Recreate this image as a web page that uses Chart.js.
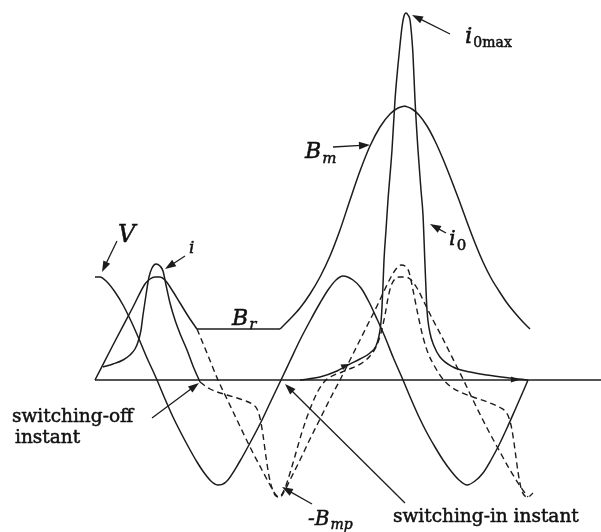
<!DOCTYPE html>
<html>
<head>
<meta charset="utf-8">
<script src="https://cdn.jsdelivr.net/npm/chart.js@4/dist/chart.umd.min.js"></script>
<style>
  html, body { margin: 0; padding: 0; background: #ffffff; }
  #wrap { width: 601px; height: 532px; }
</style>
</head>
<body>
<div id="wrap"><canvas id="c" width="601" height="532"></canvas></div>
<script>
// ---- data (time t, value v; arbitrary units) ----
const baseT = [0, 506];
const baseV = [0, 0];

// supply voltage V
const voltT = [0,5,12,20,28,36,44,52,58,62,70,78,86,94,102,110,117,123,131,145,155,167,175,186,195,205,215,225,233,241,248,258,266,274,282,290,298,308,316,324,332,340,348,356,364,372,380,388,396,404,412,420,427,433];
const voltV = [103,103,98,88,75,59,41,22,9,0,-19,-37,-53,-68,-82,-94,-102,-105,-102,-81,-63,-40,-23,0,19,40,59,77,90,100,104,100,92,78,61,43,23,0,-19,-37,-53,-67,-80,-91,-100,-105,-101,-93,-80,-65,-48,-30,-14,0];

// flux B before switching-off
const fluxT = [0,18,38,50,55,60,65,70,77,85,95,102];
const fluxV = [0,35,73,96,101,103,103,100,90,77,61,51];

// residual flux B_r
const remT = [102, 185];
const remV = [51, 51];

// flux after switching-in, rising to B_m
const riseT = [185,195,205,215,225,235,245,255,265,275,285,295,303,310];
const riseV = [51,61,72,86,103,124,150,180,209,234,253,266,272,274];

// flux falling back from B_m
const fallT = [310,317,324,332,340,348,356,364,372,380,388,396,404,412,420,428,435];
const fallV = [274,271,265,254,239,221,201,180,158,137,118,102,89,77,67,58,51];

// magnetizing current i before switching-off
const curT = [8,18,28,35,40,43,46,48,51,54,57,61,65,68,71,75,80,86,92,98,105];
const curV = [13,16,20,25,31,38,50,65,85,103,112,116,114,109,95,77,60,44,30,14,-2];

// inrush current i0
const inrT = [205,225,242,253,265,275,281,284,286,287,288,289,291,293,297,300,303,305,307,309,311,313,315,317,318,320,323,326,328,330,332,335,339,345,358,375,392,415,433];
const inrV = [0,3,9,15,21,27,34,44,58,73,95,120,150,180,230,280,315,335,353,364,367,365,360,340,325,280,230,190,165,115,70,47,34,23,13,8,5,2,0];

// prospective curves (dashed)
const dashAT = [102,112,123,132,142,155,167,175,181,185,189,195,205,215,225,235,245,255,265,275,283,290,296,301,306,310,314,318,323,328,333,340,347,355,365,378,395,406,410,414,417,420,423,426,429,433,438];
const dashAV = [51,27,0,-19,-40,-67,-90,-105,-115,-117,-112,-100,-80,-59,-39,-19,0,20,40,60,76,91,103,111,115,114,108,90,65,43,27,13,2,-6,-12,-17,-23,-28,-31,-38,-50,-70,-92,-108,-115,-117,-113];

const dashBT = [105,115,132,148,157,162,165,168,171,174,177,180,184,190,195,200,207,215,223,230,237,247,257,267,275,281,286,290,293,296,300,305,310,315,322,330,338,347,355,362,368,378,392,405,415,425,433];
const dashBV = [-2,-9,-15,-20,-24,-29,-38,-55,-77,-96,-108,-115,-117,-108,-93,-76,-52,-29,-11,-1,4,8,12,17,24,33,47,65,82,94,101,103,103,101,92,76,60,43,27,13,1,-20,-48,-72,-90,-106,-117];

// ---- annotations (positions in data units) ----
const labelList = [
  { text: 'V', t: 23, v: 138, size: 24, italic: true },
  { text: 'i', t: 94, v: 127, size: 17, italic: true },
  { text: 'B', t: 137, v: 55, size: 22, italic: true, sub: 'r', subSize: 15, subItalic: true, subDy: 4 },
  { text: 'B', t: 210, v: 222, size: 22, italic: true, sub: 'm', subSize: 15, subItalic: true, subDy: 5 },
  { text: '-B', t: 213, v: -145, size: 20, italic: true, sub: 'mp', subSize: 14, subItalic: true, subDy: 4 },
  { text: 'i', t: 370, v: 337, size: 23, italic: true, sub: '0max', subSize: 14, subItalic: false, subDy: 4 },
  { text: 'i', t: 354, v: 135, size: 21, italic: true, sub: '0', subSize: 15, subItalic: false, subDy: 5 },
  { text: 'switching-off', t: -83, v: -42, size: 18.5, italic: false },
  { text: 'instant', t: -80, v: -63, size: 18.5, italic: false },
  { text: 'switching-in instant', t: 298, v: -142, size: 18.5, italic: false }
];

const arrowList = [
  { from: [22, 139], to: [7, 108] },
  { from: [90, 124], to: [70, 111] },
  { from: [238, 233], to: [275, 235] },
  { from: [355, 346], to: [317, 365] },
  { from: [351, 147], to: [335, 156] },
  { from: [57, -38], to: [104, -3] },
  { from: [310, -123], to: [190, -4] },
  { from: [217, -124], to: [187, -107] },
  { from: [243, 11], to: [254, 16], small: true },
  { from: [410, 1], to: [424, 0], small: true }
];

function pts(ts, vs) { return ts.map((t, i) => ({ x: t, y: vs[i] })); }

const INK = '#1c1c1c';
function solid(ts, vs) {
  return { data: pts(ts, vs), borderColor: INK, borderWidth: 1.5, pointRadius: 0,
           fill: false, cubicInterpolationMode: 'monotone' };
}
function dashed(ts, vs) {
  return { data: pts(ts, vs), borderColor: INK, borderWidth: 1.4, pointRadius: 0,
           fill: false, cubicInterpolationMode: 'monotone', borderDash: [6, 4] };
}

const annotate = {
  id: 'annotate',
  afterDatasetsDraw(chart) {
    const ctx = chart.ctx, xs = chart.scales.x, ys = chart.scales.y;
    ctx.save();
    ctx.strokeStyle = INK; ctx.fillStyle = INK; ctx.lineWidth = 1.3;
    arrowList.forEach(a => {
      const x1 = xs.getPixelForValue(a.from[0]), y1 = ys.getPixelForValue(a.from[1]);
      const x2 = xs.getPixelForValue(a.to[0]), y2 = ys.getPixelForValue(a.to[1]);
      const ang = Math.atan2(y2 - y1, x2 - x1);
      const len = a.small ? 8 : 11, hw = a.small ? 3 : 3.8;
      if (!a.small) {
        ctx.beginPath(); ctx.moveTo(x1, y1);
        ctx.lineTo(x2 - Math.cos(ang) * len * 0.8, y2 - Math.sin(ang) * len * 0.8); ctx.stroke();
      }
      ctx.beginPath();
      ctx.moveTo(x2, y2);
      ctx.lineTo(x2 - Math.cos(ang) * len - Math.sin(ang) * hw, y2 - Math.sin(ang) * len + Math.cos(ang) * hw);
      ctx.lineTo(x2 - Math.cos(ang) * len + Math.sin(ang) * hw, y2 - Math.sin(ang) * len - Math.cos(ang) * hw);
      ctx.closePath(); ctx.fill();
    });
    ctx.fillStyle = '#111'; ctx.strokeStyle = '#111'; ctx.lineWidth = 0.5;
    ctx.textBaseline = 'alphabetic'; ctx.textAlign = 'left';
    labelList.forEach(l => {
      let x = xs.getPixelForValue(l.t), y = ys.getPixelForValue(l.v);
      ctx.font = (l.italic ? 'italic ' : '') + l.size + 'px "DejaVu Serif"';
      ctx.fillText(l.text, x, y);
      ctx.strokeText(l.text, x, y);
      if (l.sub) {
        x += ctx.measureText(l.text).width + 1;
        ctx.font = (l.subItalic ? 'italic ' : '') + l.subSize + 'px "DejaVu Serif"';
        ctx.fillText(l.sub, x, y + l.subDy);
        ctx.strokeText(l.sub, x, y + l.subDy);
      }
    });
    ctx.restore();
  }
};

new Chart(document.getElementById('c'), {
  type: 'line',
  data: {
    datasets: [
      solid(baseT, baseV),
      solid(voltT, voltV),
      solid(fluxT, fluxV),
      solid(remT, remV),
      solid(riseT, riseV),
      solid(fallT, fallV),
      solid(curT, curV),
      solid(inrT, inrV),
      dashed(dashAT, dashAV),
      dashed(dashBT, dashBV)
    ]
  },
  options: {
    responsive: false,
    animation: false,
    layout: { padding: 0 },
    plugins: { legend: { display: false }, tooltip: { enabled: false } },
    scales: {
      x: { type: 'linear', min: -95, max: 506, display: false },
      y: { type: 'linear', min: -152, max: 380, display: false }
    },
    elements: { point: { radius: 0 } }
  },
  plugins: [annotate]
});
</script>
</body>
</html>
